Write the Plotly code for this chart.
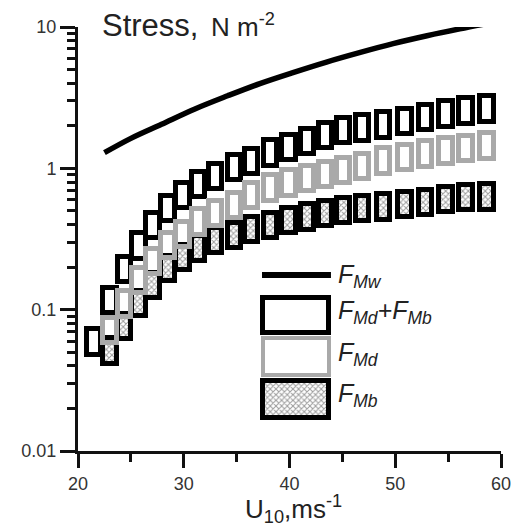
import plotly.graph_objects as go

# ---- data ----
u_sum = [21.5, 23.0, 24.4, 25.8, 27.1, 28.5, 29.9, 31.4, 33.0, 34.8, 36.4, 38.2,
         39.95, 41.7, 43.4, 45.1, 46.9, 48.9, 50.9, 52.85, 54.8, 56.7, 58.7]
f_sum = [0.059, 0.116, 0.192, 0.282, 0.394, 0.52, 0.644, 0.77, 0.877, 1.016, 1.12, 1.28,
         1.41, 1.55, 1.71, 1.86, 1.93, 2.02, 2.14, 2.29, 2.42, 2.55, 2.62]

u_dm = [23.0, 24.4, 25.8, 27.1, 28.5, 29.9, 31.4, 33.0, 34.8, 36.4, 38.2,
        39.95, 41.7, 43.4, 45.1, 46.9, 48.9, 50.9, 52.85, 54.8, 56.7, 58.7]
f_md = [0.071, 0.110, 0.161, 0.219, 0.285, 0.340, 0.418, 0.480, 0.547, 0.64, 0.727,
        0.789, 0.849, 0.906, 0.968, 1.026, 1.13, 1.19, 1.26, 1.33, 1.38, 1.44]
f_mb = [0.051, 0.076, 0.111, 0.148, 0.195, 0.235, 0.271, 0.310, 0.335, 0.368, 0.395,
        0.429, 0.453, 0.478, 0.505, 0.519, 0.533, 0.556, 0.571, 0.603, 0.619, 0.628]

u_w = [22.5, 25.0, 27.9, 31.0, 34.15, 37.2, 40.4, 43.5, 46.7, 49.8, 53.0, 56.1, 59.3]
f_mw = [1.29, 1.63, 2.05, 2.62, 3.26, 3.98, 4.78, 5.65, 6.61, 7.62, 8.67, 9.7, 10.8]

y_ticks = [0.01, 0.1, 1, 10]
y_ticktext = ["0.01", "0.1", "1", "10"]
x_ticks = [20, 30, 40, 50, 60]

BOX_K = 10 ** 0.09     # half-height factor of the rectangular markers (log space)
BOX_W = 1.3            # marker width in U10 units
FONT = "Liberation Sans, Arial, sans-serif"
GRAY = "#a9a9a9"
PATTERN = dict(shape="x", fgcolor="#3a3a3a", size=4, solidity=0.45, fillmode="overlay")


def box_base(vals):
    return [v / BOX_K for v in vals]


def box_len(vals):
    return [v * BOX_K - v / BOX_K for v in vals]


fig = go.Figure()

# F_Mb: black outline, crosshatch fill
fig.add_trace(go.Bar(
    x=u_dm, y=box_len(f_mb), base=box_base(f_mb), width=BOX_W,
    marker=dict(color="white", line=dict(color="black", width=5), pattern=PATTERN),
    showlegend=False, xaxis="x", yaxis="y"))
# F_Md + F_Mb: black open boxes
fig.add_trace(go.Bar(
    x=u_sum, y=box_len(f_sum), base=box_base(f_sum), width=BOX_W,
    marker=dict(color="rgba(255,255,255,0)", line=dict(color="black", width=5)),
    showlegend=False, xaxis="x", yaxis="y"))
# F_Md: gray open boxes
fig.add_trace(go.Bar(
    x=u_dm, y=box_len(f_md), base=box_base(f_md), width=BOX_W,
    marker=dict(color="rgba(255,255,255,0)", line=dict(color=GRAY, width=5)),
    showlegend=False, xaxis="x", yaxis="y"))
# F_Mw: thick black line
fig.add_trace(go.Scatter(
    x=u_w, y=f_mw, mode="lines", line=dict(color="black", width=5.5, shape="spline"),
    showlegend=False, xaxis="x", yaxis="y"))

# ---- custom legend swatches on a hidden overlay axis (paper-like 0..1) ----
fig.add_trace(go.Scatter(x=[0.435, 0.598], y=[0.415, 0.415], mode="lines",
                         line=dict(color="black", width=6), showlegend=False,
                         xaxis="x2", yaxis="y2"))
fig.add_trace(go.Bar(x=[0.516], y=[0.083], base=[0.279], width=[0.156],
                     marker=dict(color="white", line=dict(color="black", width=5)),
                     showlegend=False, xaxis="x2", yaxis="y2"))
fig.add_trace(go.Bar(x=[0.516], y=[0.0875], base=[0.179], width=[0.156],
                     marker=dict(color="white", line=dict(color=GRAY, width=4)),
                     showlegend=False, xaxis="x2", yaxis="y2"))
fig.add_trace(go.Bar(x=[0.516], y=[0.087], base=[0.079], width=[0.156],
                     marker=dict(color="white", line=dict(color="black", width=5),
                                 pattern=PATTERN),
                     showlegend=False, xaxis="x2", yaxis="y2"))

legend_labels = [
    ("<i>F</i><sub><i>Mw</i></sub>", 0.412),
    ("<i>F</i><sub><i>Md</i></sub><i>+F</i><sub><i>Mb</i></sub>", 0.328),
    ("<i>F</i><sub><i>Md</i></sub>", 0.228),
    ("<i>F</i><sub><i>Mb</i></sub>", 0.132),
]
annotations = []
for txt, yy in legend_labels:
    annotations.append(dict(text=txt, x=0.610, y=yy, xref="paper", yref="paper",
                            xanchor="left", yanchor="middle", showarrow=False,
                            font=dict(size=25, family=FONT, color="#222222")))

annotations.append(dict(
    text="Stress,", x=0.052, y=0.958, xref="paper", yref="paper",
    xanchor="left", yanchor="bottom", showarrow=False,
    font=dict(size=31, family=FONT, color="#222222")))
annotations.append(dict(
    text="N m<sup>-2</sup>", x=0.31, y=0.961, xref="paper", yref="paper",
    xanchor="left", yanchor="bottom", showarrow=False,
    font=dict(size=26, family=FONT, color="#222222")))
annotations.append(dict(
    text="U<sub>10</sub>,ms<sup>-1</sup>",
    x=0.51, y=-0.183, xref="paper", yref="paper", xanchor="center", yanchor="bottom",
    showarrow=False, font=dict(size=26, family=FONT, color="#222222")))
fig.update_layout(annotations=annotations)

fig.update_layout(
    width=523, height=531,
    margin=dict(l=78, r=20, t=27, b=80),
    paper_bgcolor="white", plot_bgcolor="white",
    barmode="overlay", bargap=0,
    font=dict(family=FONT, size=18, color="#222222"),
    xaxis=dict(range=[20, 60], tickvals=x_ticks, ticks="outside", ticklen=14,
               tickwidth=3, tickcolor="#111111", showline=True, linewidth=3,
               linecolor="#111111", showgrid=False, zeroline=False,
               tickfont=dict(size=18, color="#333333"),
               minor=dict(tickvals=[25, 35, 45, 55], ticks="outside", ticklen=8,
                          tickwidth=3, tickcolor="#111111", showgrid=False)),
    yaxis=dict(type="log", range=[-2, 1], tickvals=y_ticks, ticktext=y_ticktext,
               ticks="outside", ticklen=15, tickwidth=3, tickcolor="#111111",
               showline=True, linewidth=3, linecolor="#111111", showgrid=False,
               zeroline=False, tickfont=dict(size=18, color="#333333"),
               minor=dict(tickvals=[m * d for d in (0.01, 0.1, 1) for m in range(2, 10)],
                          ticks="outside", ticklen=8, tickwidth=3,
                          tickcolor="#111111", showgrid=False)),
    xaxis2=dict(domain=[0, 1], range=[0, 1], visible=False, anchor="y2",
                overlaying="x"),
    yaxis2=dict(domain=[0, 1], range=[0, 1], visible=False, anchor="x2",
                overlaying="y"),
)

fig.write_html("out.html")
